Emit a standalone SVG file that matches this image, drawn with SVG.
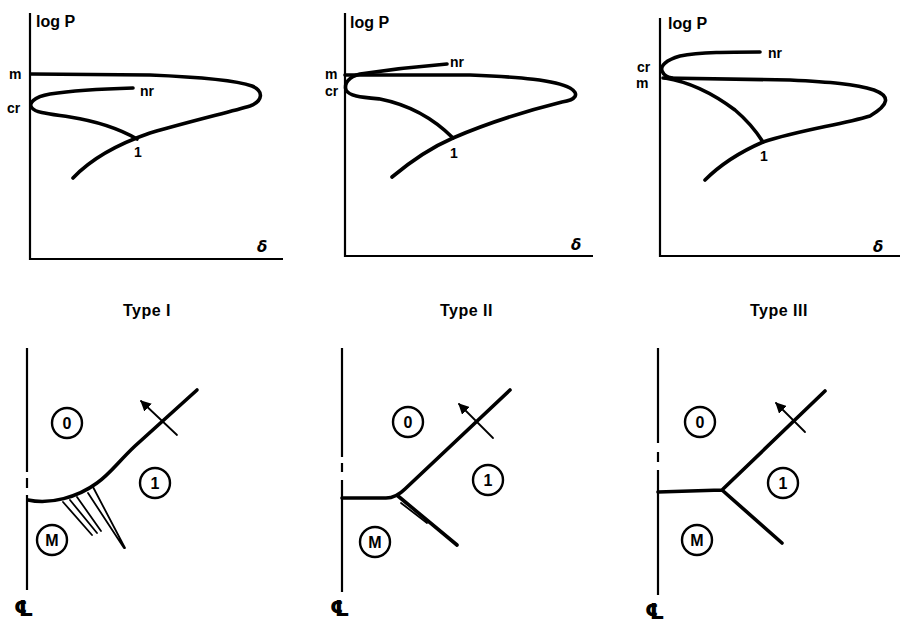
<svg xmlns="http://www.w3.org/2000/svg" width="905" height="623" viewBox="0 0 905 623">
<style>
.ax{fill:none;stroke:#000;stroke-width:2.2}
.cv{fill:none;stroke:#000;stroke-width:3.6;stroke-linecap:round;stroke-linejoin:round}
.th{fill:none;stroke:#000;stroke-width:1.8;stroke-linecap:round}
.lb{font-family:"Liberation Sans",Arial,sans-serif;font-weight:bold;font-size:16px;fill:#000}
.ty{font-family:"Liberation Sans",Arial,sans-serif;font-weight:bold;font-size:16px;fill:#000;letter-spacing:0.5px}
.sm{font-family:"Liberation Sans",Arial,sans-serif;font-weight:bold;font-size:14px;fill:#000}
.dl{font-family:"DejaVu Sans",sans-serif;font-weight:bold;font-style:italic;font-size:15px;fill:#000}
.cl{font-family:"DejaVu Sans",sans-serif;font-weight:bold;font-size:22px;fill:#000}
.ci{fill:none;stroke:#000;stroke-width:2.4}
.ct{font-family:"Liberation Sans",Arial,sans-serif;font-weight:bold;font-size:16px;fill:#000;text-anchor:middle}
</style>
<defs>
<marker id="ah" viewBox="0 0 10 10" refX="9" refY="5" markerWidth="6" markerHeight="6" orient="auto-start-reverse" markerUnits="strokeWidth">
<path d="M0,0 L10,5 L0,10 z" fill="#000"/>
</marker>
</defs>

<!-- Top panel 1 -->
<g id="polar1">
<path class="ax" d="M30,13 V259 H283"/>
<text class="lb" x="36" y="27">log P</text>
<text class="sm" x="9" y="79">m</text>
<text class="sm" x="7" y="113">cr</text>
<text class="sm" x="140" y="96">nr</text>
<text class="sm" x="134" y="157">1</text>
<text class="dl" x="257" y="252">δ</text>
<path class="cv" d="M31,74 L150,75 C200,77 235,80 252,86 C264,91 263,101 250,106 C230,112 195,120 150,133 C115,145 90,160 73,178"/>
<path class="cv" d="M133,88 C100,89 70,91 50,94 C33,97 28,104 32,108 C36,113 50,114 70,117 C95,121 118,128 137,139"/>
</g>

<!-- Top panel 2 -->
<g id="polar2">
<path class="ax" d="M345,13 V256 H593"/>
<text class="lb" x="350" y="28">log P</text>
<text class="sm" x="325" y="79">m</text>
<text class="sm" x="325" y="96">cr</text>
<text class="sm" x="450" y="67">nr</text>
<text class="sm" x="450" y="158">1</text>
<text class="dl" x="571" y="250">δ</text>
<path class="cv" d="M345,75 L470,75 C520,77 555,80 570,88 C580,94 576,100 562,102 C530,110 490,122 453,138 C430,148 410,162 392,177"/>
<path class="cv" d="M447,64 C410,67 380,71 360,74 C348,77 344,84 346,90 C349,96 360,97 380,99 C410,105 435,120 453,138"/>
</g>

<!-- Top panel 3 -->
<g id="polar3">
<path class="ax" d="M660,18 V256 H900"/>
<text class="lb" x="668" y="29">log P</text>
<text class="sm" x="637" y="72">cr</text>
<text class="sm" x="636" y="88">m</text>
<text class="sm" x="768" y="58">nr</text>
<text class="sm" x="760" y="161">1</text>
<text class="dl" x="873" y="252">δ</text>
<path class="cv" d="M760,52 C730,52 700,52 680,56 C666,60 660,66 662,71 C664,76 668,77 672,78"/>
<path class="cv" d="M663,78 L790,80 C830,82 855,84 874,90 C890,96 890,104 870,116 C840,125 800,130 763,142 C740,152 720,165 705,180"/>
<path class="cv" d="M665,78 C690,82 715,95 735,110 C748,121 756,131 763,142"/>
</g>

<!-- Type labels -->
<text class="ty" x="123" y="316">Type I</text>
<text class="ty" x="440" y="316">Type II</text>
<text class="ty" x="750" y="316">Type III</text>

<!-- Bottom panel 1 -->
<g id="flow1">
<path class="ax" d="M27,348 V472 M27,478 V488 M27,495 V590"/>
<text class="cl" x="14" y="616">℄</text>
<path class="cv" d="M28,500 C50,505 78,497 97,483 C110,474 118,462 135,446 L197,390"/>
<path class="th" d="M177,435 L141,401" marker-end="url(#ah)"/>
<path class="th" d="M63,502 L92,535 M70,500 L97,533 M77,497 L101,531"/>
<path class="th" d="M88,493 L124,548 M93,487 L125,548" stroke-width="2.4"/>
<circle class="ci" cx="67" cy="423" r="15"/><text class="ct" x="67" y="429">0</text>
<circle class="ci" cx="155" cy="483" r="15"/><text class="ct" x="155" y="489">1</text>
<circle class="ci" cx="52" cy="540" r="15"/><text class="ct" x="52" y="546">M</text>
</g>

<!-- Bottom panel 2 -->
<g id="flow2">
<path class="ax" d="M342,348 V457 M342,463 V472 M342,480 V592"/>
<text class="cl" x="330" y="616">℄</text>
<path class="cv" d="M342,498 L386,498 C394,498 399,495 405,489 L510,390"/>
<path class="cv" d="M398,496 L457,545"/>
<path class="th" d="M401,503 L427,523"/>
<path class="th" d="M493,438 L459,404" marker-end="url(#ah)"/>
<circle class="ci" cx="408" cy="422" r="15"/><text class="ct" x="408" y="428">0</text>
<circle class="ci" cx="488" cy="480" r="15"/><text class="ct" x="488" y="486">1</text>
<circle class="ci" cx="375" cy="542" r="15"/><text class="ct" x="375" y="548">M</text>
</g>

<!-- Bottom panel 3 -->
<g id="flow3">
<path class="ax" d="M658,348 V443 M658,452 V462 M658,470 V595"/>
<text class="cl" x="645" y="619">℄</text>
<path class="cv" d="M658,492 L722,490 L825,391 M722,490 L782,543"/>
<path class="th" d="M805,432 L776,403" marker-end="url(#ah)"/>
<circle class="ci" cx="700" cy="422" r="15"/><text class="ct" x="700" y="428">0</text>
<circle class="ci" cx="783" cy="483" r="15"/><text class="ct" x="783" y="489">1</text>
<circle class="ci" cx="697" cy="540" r="15"/><text class="ct" x="697" y="546">M</text>
</g>
</svg>
